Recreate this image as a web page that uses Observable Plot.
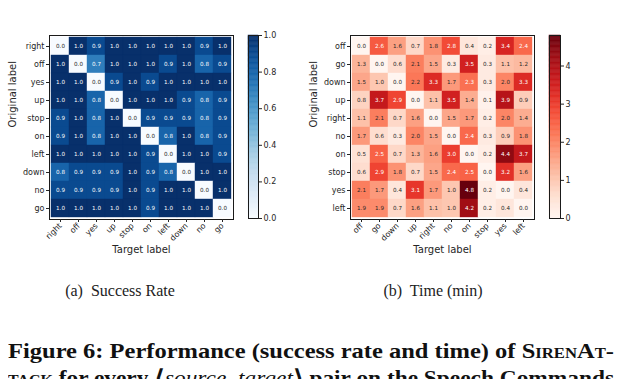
<!DOCTYPE html>
<html>
<head>
<meta charset="utf-8">
<script src="https://cdn.jsdelivr.net/npm/d3@7"></script>
<script src="https://cdn.jsdelivr.net/npm/@observablehq/plot@0.6"></script>
<style>
  html, body { margin: 0; padding: 0; background: #fff; }
  #page { position: relative; width: 623px; height: 379px; overflow: hidden; background: #fff; }
  .abs { position: absolute; }
  .sub { font-family: "Liberation Serif", "DejaVu Serif", serif; font-size: 16px; color: #222; white-space: nowrap; }
  .cap { font-family: "Liberation Serif", "DejaVu Serif", serif; font-weight: bold; font-size: 22px; color: #111; white-space: nowrap; transform-origin: 0 0; }
  .sc { font-variant: small-caps; }
</style>
</head>
<body>
<div id="page">
  <div id="hA" class="abs" style="left:0px;top:0px"></div>
  <div id="cA" class="abs" style="left:240px;top:0px"></div>
  <div id="hB" class="abs" style="left:300px;top:0px"></div>
  <div id="cB" class="abs" style="left:541px;top:0px"></div>
  <div class="abs sub" id="subA">(a)&nbsp; Success Rate</div>
  <div class="abs sub" id="subB">(b)&nbsp; Time (min)</div>
  <div class="abs cap" id="cap1">Figure 6: Performance (success rate and time) of <span class="sc">SirenAt-</span></div>
  <div class="abs cap" id="cap2"><span class="sc">tack</span> for every ⟨<i style="font-weight:normal">source, target</i>⟩ pair on the Speech Commands</div>
</div>
<script>
// ---- (a) Success rate ----
const rowsA = ["right","off","yes","up","stop","on","left","down","no","go"];
const colsA = ["right","off","yes","up","stop","on","left","down","no","go"];
const rateA = [
  [0.0,1.0,0.9,1.0,1.0,1.0,1.0,1.0,0.9,1.0],
  [1.0,0.0,0.7,1.0,1.0,1.0,0.9,1.0,0.8,0.9],
  [1.0,1.0,0.0,0.9,1.0,0.9,1.0,1.0,1.0,1.0],
  [1.0,1.0,0.8,0.0,1.0,1.0,1.0,0.9,0.8,0.9],
  [0.9,1.0,0.8,1.0,0.0,0.9,0.9,0.9,0.8,0.9],
  [0.9,1.0,0.8,1.0,1.0,0.0,0.8,1.0,0.8,0.9],
  [1.0,1.0,1.0,1.0,1.0,0.9,0.0,1.0,1.0,0.9],
  [0.8,0.9,0.9,0.9,1.0,0.9,0.8,0.0,1.0,1.0],
  [0.9,0.9,0.9,0.9,1.0,0.9,1.0,1.0,0.0,1.0],
  [1.0,1.0,1.0,1.0,1.0,0.9,1.0,1.0,1.0,0.0]
];
const ticksA = [0, 0.2, 0.4, 0.6, 0.8, 1.0];

// ---- (b) Time (min) ----
const rowsB = ["off","go","down","up","right","no","on","stop","yes","left"];
const colsB = ["off","go","down","up","right","no","on","stop","yes","left"];
const timeB = [
  [0.0,2.6,1.6,0.7,1.8,2.8,0.4,0.2,3.4,2.4],
  [1.3,0.0,0.6,2.1,1.5,0.3,3.5,0.3,1.1,1.2],
  [1.5,1.0,0.0,2.2,3.3,1.7,2.3,0.3,2.0,3.3],
  [0.8,3.7,2.9,0.0,1.1,3.5,1.4,0.1,3.9,0.9],
  [1.1,2.1,0.7,1.6,0.0,1.5,1.7,0.2,2.0,1.4],
  [1.7,0.6,0.3,2.0,1.5,0.0,2.4,0.3,0.9,1.8],
  [0.5,2.5,0.7,1.3,1.6,3.0,0.0,0.2,4.4,3.7],
  [0.6,2.9,1.8,0.7,1.5,2.4,2.5,0.0,3.2,1.6],
  [2.1,1.7,0.4,3.1,1.7,1.0,4.8,0.2,0.0,0.4],
  [1.9,1.9,0.7,1.6,1.1,1.0,4.2,0.2,0.4,0.0]
];
const ticksB = [0, 1, 2, 3, 4];

const FONT = "DejaVu Sans, sans-serif";

function table(rows, cols, vals) {
  return rows.flatMap((r, i) => cols.map((c, j) => ({r, c, v: vals[i][j]})));
}

function heat({data, rows, cols, scheme, domain, light, marginLeft, width}) {
  return Plot.plot({
    width, height: 270,
    marginLeft, marginRight: width - marginLeft - 184, marginTop: 35, marginBottom: 51,
    style: {fontFamily: FONT, color: "#262626", background: "transparent", overflow: "visible"},
    x: {domain: cols, padding: 0},
    y: {domain: rows, padding: 0},
    color: {type: "linear", scheme, domain},
    marks: [
      Plot.cell(data, {x: "c", y: "r", fill: "v", stroke: "v", strokeWidth: 0.4, inset: 0}),
      Plot.text(data, {x: "c", y: "r", text: d => d.v.toFixed(1),
        fill: d => light(d.v) ? "#ffffff" : "#262626", fontSize: 5.6}),
      Plot.frame({stroke: "#1a1a1a", strokeWidth: 1}),
      Plot.axisX({tickRotate: -45, tickSize: 3, tickPadding: 2, fontSize: 8, label: null}),
      Plot.axisY({tickSize: 3, tickPadding: 2, fontSize: 8, label: null}),
      Plot.text(["Target label"], {frameAnchor: "bottom", dy: 33, fontSize: 10}),
      Plot.text(["Original label"], {frameAnchor: "left", dx: -37, rotate: -90, fontSize: 10})
    ]
  });
}

function colorbar({scheme, domain, ticks, fmt, barWidth, width}) {
  const n = 150, [a, b] = domain;
  const slices = d3.range(n).map(i => ({y1: a + (b - a) * i / n, y2: a + (b - a) * (i + 1) / n}));
  return Plot.plot({
    width, height: 270,
    marginLeft: 8, marginRight: width - 8 - barWidth, marginTop: 35, marginBottom: 52,
    style: {fontFamily: FONT, color: "#262626", background: "transparent", overflow: "visible"},
    x: {domain: [0, 1], axis: null},
    y: {domain, axis: null},
    color: {type: "linear", scheme, domain},
    marks: [
      Plot.rect(slices, {x1: () => 0, x2: () => 1, y1: "y1", y2: "y2",
        fill: d => (d.y1 + d.y2) / 2, stroke: d => (d.y1 + d.y2) / 2, strokeWidth: 0.5}),
      Plot.frame({stroke: "#1a1a1a", strokeWidth: 1}),
      Plot.axisY({anchor: "right", ticks, tickFormat: fmt, tickSize: 3, tickPadding: 2, fontSize: 8, label: null})
    ]
  });
}

document.getElementById("hA").append(heat({
  data: table(rowsA, colsA, rateA), rows: rowsA, cols: colsA,
  scheme: "blues", domain: [0, 1], light: v => v > 0.5, marginLeft: 49, width: 240
}));
document.getElementById("cA").append(colorbar({
  scheme: "blues", domain: [0, 1], ticks: ticksA, fmt: d3.format(".1f"), barWidth: 10, width: 50
}));
const maxB = d3.max(timeB.flat());
document.getElementById("hB").append(heat({
  data: table(rowsB, colsB, timeB), rows: rowsB, cols: colsB,
  scheme: "reds", domain: [0, maxB], light: v => v >= 2.3, marginLeft: 50, width: 240
}));
document.getElementById("cB").append(colorbar({
  scheme: "reds", domain: [0, maxB], ticks: ticksB, fmt: d3.format("d"), barWidth: 11, width: 50
}));

// captions placement
function place(id, cx, cy) {
  const el = document.getElementById(id);
  const r = el.getBoundingClientRect();
  el.style.left = (cx - r.width / 2) + "px";
  el.style.top = (cy - r.height / 2) + "px";
}
place("subA", 120, 291);
place("subB", 433, 291);
function fit(id, x0, x1, top) {
  const el = document.getElementById(id);
  el.style.left = x0 + "px";
  el.style.top = top + "px";
  const w = el.getBoundingClientRect().width;
  el.style.transform = `scaleX(${(x1 - x0) / w})`;
}
fit("cap1", 8, 614, 338);
fit("cap2", 8, 614, 364);
</script>
</body>
</html>
